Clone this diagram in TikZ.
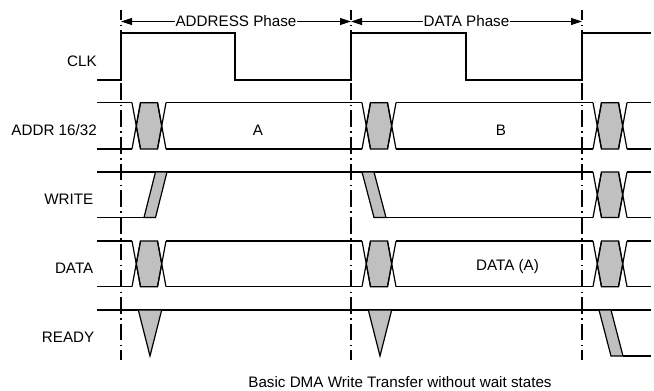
\documentclass[tikz,border=0pt]{standalone}
\usepackage{fontspec}
\setmainfont{Liberation Sans}
\usetikzlibrary{arrows.meta}
\definecolor{tdgray}{RGB}{192,192,192}
\tikzset{
  sig/.style={line width=1.2pt, line join=miter},
  gridline/.style={line width=2pt, dash pattern=on 16.7pt off 4.5pt on 1.5pt off 4pt, dash phase=6.7pt},
  phasearrow/.style={line width=0.9pt, {Triangle[length=11pt,width=7pt]}-{Triangle[length=11pt,width=7pt]}},
  lbl/.style={font=\fontsize{15.2}{18}\selectfont, inner sep=0pt},
}
% bus crossing: #1 cycle start x, #2 top y, #3 bottom y
\newcommand{\tdBusX}[3]{%
  \filldraw[sig, fill=tdgray] (#1+19.5,#2) -- (#1+36.5,#2) -- (#1+40.75,{(#2+#3)/2}) -- (#1+36.5,#3) -- (#1+19.5,#3) -- (#1+15.25,{(#2+#3)/2}) -- cycle;
  \draw[sig] (#1+11,#2) -- (#1+19.5,#3) (#1+11,#3) -- (#1+19.5,#2)
             (#1+36.5,#2) -- (#1+45,#3) (#1+36.5,#3) -- (#1+45,#2);
}
\newcommand{\tdBusRow}[2]{%
  \draw[sig] (97,#1) -- (132,#1) (166,#1) -- (362,#1) (396,#1) -- (593,#1) (627,#1) -- (651,#1);
  \draw[sig] (97,#2) -- (132,#2) (166,#2) -- (362,#2) (396,#2) -- (593,#2) (627,#2) -- (651,#2);
  \tdBusX{121}{#1}{#2}\tdBusX{351}{#1}{#2}\tdBusX{582}{#1}{#2}%
}
\begin{document}
\begin{tikzpicture}[x=1pt,y=-1pt]
\useasboundingbox (0,0) rectangle (654,391);

% signal names
\node[lbl, anchor=base east] (lclk)   at (97,66.5)  {CLK};
\node[lbl, anchor=base east] (laddr)  at (97,135.5) {ADDR 16/32};
\node[lbl, anchor=base east] (lwrite) at (93.5,204) {WRITE};
\node[lbl, anchor=base east] (ldata)  at (93.5,273.3) {DATA};
\node[lbl, anchor=base east] (lready) at (94.5,342.3) {READY};

% CLK
\draw[sig] (97,80) -- (121,80) -- (121,33) -- (235,33) -- (235,80) -- (351,80)
  -- (351,33) -- (466,33) -- (466,80) -- (582,80) -- (582,33) -- (651,33);

% ADDR
\tdBusRow{102.7}{149}
\node[lbl, anchor=base] (ta) at (258,135) {A};
\node[lbl, anchor=base] (tb) at (501,135) {B};

% WRITE
\draw[sig] (97,172) -- (593,172) (627,172) -- (651,172);
\draw[sig] (97,217.5) -- (144,217.5) (386,217.5) -- (593,217.5) (627,217.5) -- (651,217.5);
\filldraw[sig, fill=tdgray] (144,217.5) -- (155.5,217.5) -- (167,172) -- (155.5,172) -- cycle;
\filldraw[sig, fill=tdgray] (362,172) -- (374,172) -- (386,217.5) -- (374,217.5) -- cycle;
\tdBusX{582}{172}{217.5}

% DATA
\tdBusRow{241}{286.7}
\node[lbl, anchor=base] (tda) at (507.5,270.5) {DATA (A)};

% READY
\draw[sig] (97,310) -- (651,310);
\draw[sig] (623,356) -- (651,356);
\filldraw[sig, fill=tdgray] (138.3,310) -- (161.7,310) -- (150,356) -- cycle;
\filldraw[sig, fill=tdgray] (368.3,310) -- (391.7,310) -- (380,356) -- cycle;
\filldraw[sig, fill=tdgray] (599,310) -- (611,310) -- (623,356) -- (611,356) -- cycle;

% phase boundaries
\coordinate (g1t) at (121,10);  \coordinate (g1b) at (121,360);
\coordinate (g2t) at (351,10);  \coordinate (g2b) at (351,360);
\coordinate (g3t) at (582,10);  \coordinate (g3b) at (582,360);
\draw[gridline] (g1t) -- (g1b);
\draw[gridline] (g2t) -- (g2b);
\draw[gridline] (g3t) -- (g3b);

% phase arrows
\coordinate (p1) at (121,21.5);
\coordinate (p2) at (351,21.5);
\coordinate (p3) at (582,21.5);
\draw[phasearrow] (p1) -- node[lbl, fill=white, inner sep=0.5pt] (aph) {ADDRESS Phase} (p2);
\draw[phasearrow] (p2) -- node[lbl, fill=white, inner sep=0.5pt] (dph) {DATA Phase} (p3);

% caption
\node[lbl, anchor=base] (cap) at (400,387) {Basic DMA Write Transfer without wait states};
\end{tikzpicture}
\end{document}
